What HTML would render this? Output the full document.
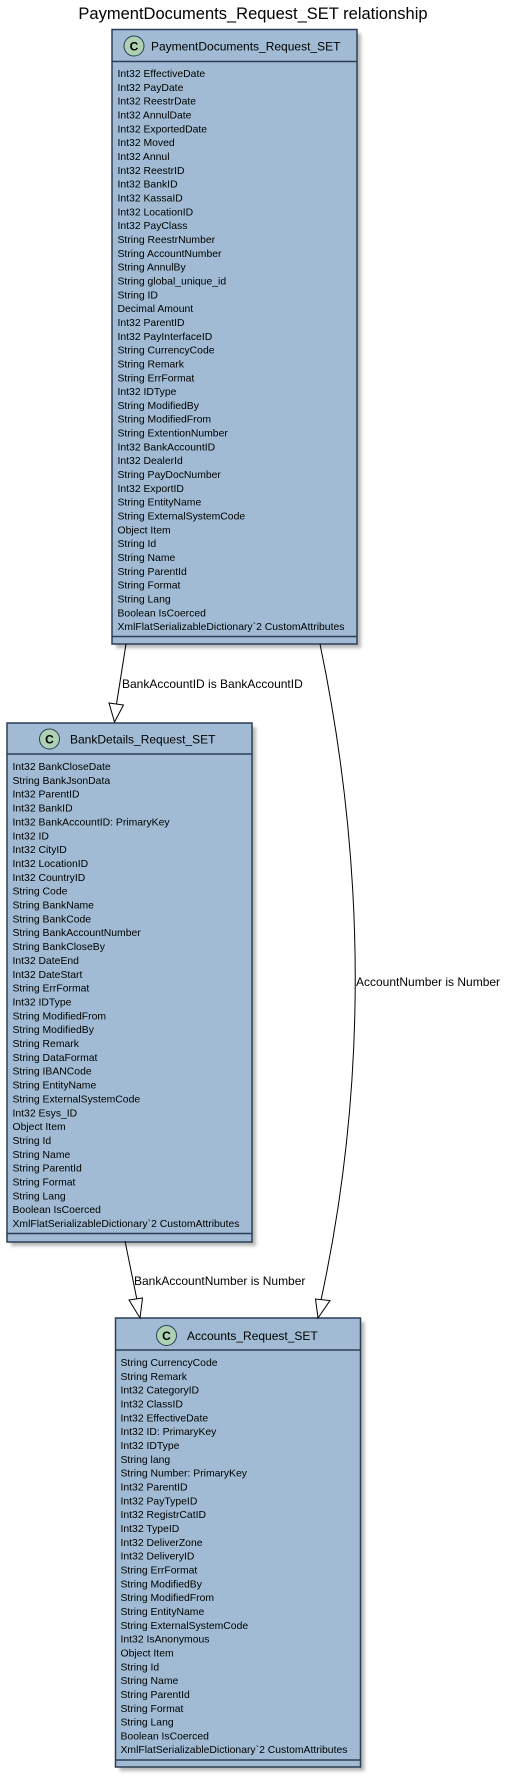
<!DOCTYPE html>
<html><head><meta charset="utf-8"><style>
html,body{margin:0;padding:0;background:#fff;}
svg{display:block;}
text{font-family:"Liberation Sans",sans-serif;fill:#000;}
.a{font-size:10.4px;}
.h{font-size:12px;}
.l{font-size:12px;}
</style></head><body>
<svg width="518" height="1780" viewBox="0 0 518 1780" xmlns="http://www.w3.org/2000/svg">
<defs><filter id="s" x="-10%" y="-10%" width="130%" height="130%"><feGaussianBlur stdDeviation="1.5"/></filter></defs>
<text x="253" y="19" font-size="16.5" text-anchor="middle">PaymentDocuments_Request_SET relationship</text>

<!-- Box1 -->
<rect x="116" y="33.5" width="245" height="614.5" fill="#888" opacity="0.6" filter="url(#s)"/>
<rect x="112" y="29.5" width="245" height="614.5" fill="#A0BBD3" stroke="#2C3E55" stroke-width="1.5"/>
<line x1="112" y1="61.5" x2="357" y2="61.5" stroke="#2C3E55" stroke-width="1.5"/>
<line x1="112" y1="636.5" x2="357" y2="636.5" stroke="#2C3E55" stroke-width="1.5"/>
<circle cx="134" cy="46" r="10" fill="#ADD1B2" stroke="#2C3E55" stroke-width="1"/>
<text x="134" y="50.5" font-size="12" font-weight="bold" text-anchor="middle">C</text>
<text class="h" x="151" y="50.5">PaymentDocuments_Request_SET</text>
<text class="a" x="117.5" y="77">
<tspan x="117.5" dy="0">Int32 EffectiveDate</tspan><tspan x="117.5" dy="13.83">Int32 PayDate</tspan><tspan x="117.5" dy="13.83">Int32 ReestrDate</tspan><tspan x="117.5" dy="13.83">Int32 AnnulDate</tspan><tspan x="117.5" dy="13.83">Int32 ExportedDate</tspan><tspan x="117.5" dy="13.83">Int32 Moved</tspan><tspan x="117.5" dy="13.83">Int32 Annul</tspan><tspan x="117.5" dy="13.83">Int32 ReestrID</tspan><tspan x="117.5" dy="13.83">Int32 BankID</tspan><tspan x="117.5" dy="13.83">Int32 KassaID</tspan><tspan x="117.5" dy="13.83">Int32 LocationID</tspan><tspan x="117.5" dy="13.83">Int32 PayClass</tspan><tspan x="117.5" dy="13.83">String ReestrNumber</tspan><tspan x="117.5" dy="13.83">String AccountNumber</tspan><tspan x="117.5" dy="13.83">String AnnulBy</tspan><tspan x="117.5" dy="13.83">String global_unique_id</tspan><tspan x="117.5" dy="13.83">String ID</tspan><tspan x="117.5" dy="13.83">Decimal Amount</tspan><tspan x="117.5" dy="13.83">Int32 ParentID</tspan><tspan x="117.5" dy="13.83">Int32 PayInterfaceID</tspan><tspan x="117.5" dy="13.83">String CurrencyCode</tspan><tspan x="117.5" dy="13.83">String Remark</tspan><tspan x="117.5" dy="13.83">String ErrFormat</tspan><tspan x="117.5" dy="13.83">Int32 IDType</tspan><tspan x="117.5" dy="13.83">String ModifiedBy</tspan><tspan x="117.5" dy="13.83">String ModifiedFrom</tspan><tspan x="117.5" dy="13.83">String ExtentionNumber</tspan><tspan x="117.5" dy="13.83">Int32 BankAccountID</tspan><tspan x="117.5" dy="13.83">Int32 DealerId</tspan><tspan x="117.5" dy="13.83">String PayDocNumber</tspan><tspan x="117.5" dy="13.83">Int32 ExportID</tspan><tspan x="117.5" dy="13.83">String EntityName</tspan><tspan x="117.5" dy="13.83">String ExternalSystemCode</tspan><tspan x="117.5" dy="13.83">Object Item</tspan><tspan x="117.5" dy="13.83">String Id</tspan><tspan x="117.5" dy="13.83">String Name</tspan><tspan x="117.5" dy="13.83">String ParentId</tspan><tspan x="117.5" dy="13.83">String Format</tspan><tspan x="117.5" dy="13.83">String Lang</tspan><tspan x="117.5" dy="13.83">Boolean IsCoerced</tspan><tspan x="117.5" dy="13.83">XmlFlatSerializableDictionary`2 CustomAttributes</tspan>
</text>

<!-- Box2 -->
<rect x="11" y="727" width="245" height="519" fill="#888" opacity="0.6" filter="url(#s)"/>
<rect x="7" y="723" width="245" height="519" fill="#A0BBD3" stroke="#2C3E55" stroke-width="1.5"/>
<line x1="7" y1="754" x2="252" y2="754" stroke="#2C3E55" stroke-width="1.5"/>
<line x1="7" y1="1233.5" x2="252" y2="1233.5" stroke="#2C3E55" stroke-width="1.5"/>
<circle cx="49.5" cy="739" r="10" fill="#ADD1B2" stroke="#2C3E55" stroke-width="1"/>
<text x="49.5" y="743.5" font-size="12" font-weight="bold" text-anchor="middle">C</text>
<text class="h" x="70" y="743.5">BankDetails_Request_SET</text>
<text class="a" x="12.5" y="770">
<tspan x="12.5" dy="0">Int32 BankCloseDate</tspan><tspan x="12.5" dy="13.85">String BankJsonData</tspan><tspan x="12.5" dy="13.85">Int32 ParentID</tspan><tspan x="12.5" dy="13.85">Int32 BankID</tspan><tspan x="12.5" dy="13.85">Int32 BankAccountID: PrimaryKey</tspan><tspan x="12.5" dy="13.85">Int32 ID</tspan><tspan x="12.5" dy="13.85">Int32 CityID</tspan><tspan x="12.5" dy="13.85">Int32 LocationID</tspan><tspan x="12.5" dy="13.85">Int32 CountryID</tspan><tspan x="12.5" dy="13.85">String Code</tspan><tspan x="12.5" dy="13.85">String BankName</tspan><tspan x="12.5" dy="13.85">String BankCode</tspan><tspan x="12.5" dy="13.85">String BankAccountNumber</tspan><tspan x="12.5" dy="13.85">String BankCloseBy</tspan><tspan x="12.5" dy="13.85">Int32 DateEnd</tspan><tspan x="12.5" dy="13.85">Int32 DateStart</tspan><tspan x="12.5" dy="13.85">String ErrFormat</tspan><tspan x="12.5" dy="13.85">Int32 IDType</tspan><tspan x="12.5" dy="13.85">String ModifiedFrom</tspan><tspan x="12.5" dy="13.85">String ModifiedBy</tspan><tspan x="12.5" dy="13.85">String Remark</tspan><tspan x="12.5" dy="13.85">String DataFormat</tspan><tspan x="12.5" dy="13.85">String IBANCode</tspan><tspan x="12.5" dy="13.85">String EntityName</tspan><tspan x="12.5" dy="13.85">String ExternalSystemCode</tspan><tspan x="12.5" dy="13.85">Int32 Esys_ID</tspan><tspan x="12.5" dy="13.85">Object Item</tspan><tspan x="12.5" dy="13.85">String Id</tspan><tspan x="12.5" dy="13.85">String Name</tspan><tspan x="12.5" dy="13.85">String ParentId</tspan><tspan x="12.5" dy="13.85">String Format</tspan><tspan x="12.5" dy="13.85">String Lang</tspan><tspan x="12.5" dy="13.85">Boolean IsCoerced</tspan><tspan x="12.5" dy="13.85">XmlFlatSerializableDictionary`2 CustomAttributes</tspan>
</text>

<!-- Box3 -->
<rect x="119.5" y="1322" width="245" height="449" fill="#888" opacity="0.6" filter="url(#s)"/>
<rect x="115.5" y="1318" width="245" height="449" fill="#A0BBD3" stroke="#2C3E55" stroke-width="1.5"/>
<line x1="115.5" y1="1350" x2="360.5" y2="1350" stroke="#2C3E55" stroke-width="1.5"/>
<line x1="115.5" y1="1760" x2="360.5" y2="1760" stroke="#2C3E55" stroke-width="1.5"/>
<circle cx="166.5" cy="1335.5" r="10" fill="#ADD1B2" stroke="#2C3E55" stroke-width="1"/>
<text x="166.5" y="1340" font-size="12" font-weight="bold" text-anchor="middle">C</text>
<text class="h" x="187" y="1340">Accounts_Request_SET</text>
<text class="a" x="120.5" y="1366">
<tspan x="120.5" dy="0">String CurrencyCode</tspan><tspan x="120.5" dy="13.83">String Remark</tspan><tspan x="120.5" dy="13.83">Int32 CategoryID</tspan><tspan x="120.5" dy="13.83">Int32 ClassID</tspan><tspan x="120.5" dy="13.83">Int32 EffectiveDate</tspan><tspan x="120.5" dy="13.83">Int32 ID: PrimaryKey</tspan><tspan x="120.5" dy="13.83">Int32 IDType</tspan><tspan x="120.5" dy="13.83">String lang</tspan><tspan x="120.5" dy="13.83">String Number: PrimaryKey</tspan><tspan x="120.5" dy="13.83">Int32 ParentID</tspan><tspan x="120.5" dy="13.83">Int32 PayTypeID</tspan><tspan x="120.5" dy="13.83">Int32 RegistrCatID</tspan><tspan x="120.5" dy="13.83">Int32 TypeID</tspan><tspan x="120.5" dy="13.83">Int32 DeliverZone</tspan><tspan x="120.5" dy="13.83">Int32 DeliveryID</tspan><tspan x="120.5" dy="13.83">String ErrFormat</tspan><tspan x="120.5" dy="13.83">String ModifiedBy</tspan><tspan x="120.5" dy="13.83">String ModifiedFrom</tspan><tspan x="120.5" dy="13.83">String EntityName</tspan><tspan x="120.5" dy="13.83">String ExternalSystemCode</tspan><tspan x="120.5" dy="13.83">Int32 IsAnonymous</tspan><tspan x="120.5" dy="13.83">Object Item</tspan><tspan x="120.5" dy="13.83">String Id</tspan><tspan x="120.5" dy="13.83">String Name</tspan><tspan x="120.5" dy="13.83">String ParentId</tspan><tspan x="120.5" dy="13.83">String Format</tspan><tspan x="120.5" dy="13.83">String Lang</tspan><tspan x="120.5" dy="13.83">Boolean IsCoerced</tspan><tspan x="120.5" dy="13.83">XmlFlatSerializableDictionary`2 CustomAttributes</tspan>
</text>

<!-- Edges -->
<g fill="none" stroke="#000" stroke-width="1">
<path d="M126,644 L116.5,704"/>
<polygon points="114.5,722 109,703 123.5,705" fill="#fff"/>
<path d="M320,644 Q390,981 321,1300"/>
<polygon points="318,1318 315.5,1299 330,1300.5" fill="#fff"/>
<path d="M125,1241 L137,1300"/>
<polygon points="140,1318 129,1300 142.5,1298" fill="#fff"/>
</g>
<text class="l" x="122" y="688">BankAccountID is BankAccountID</text>
<text class="l" x="356" y="986">AccountNumber is Number</text>
<text class="l" x="134" y="1285">BankAccountNumber is Number</text>
</svg>
</body></html>
